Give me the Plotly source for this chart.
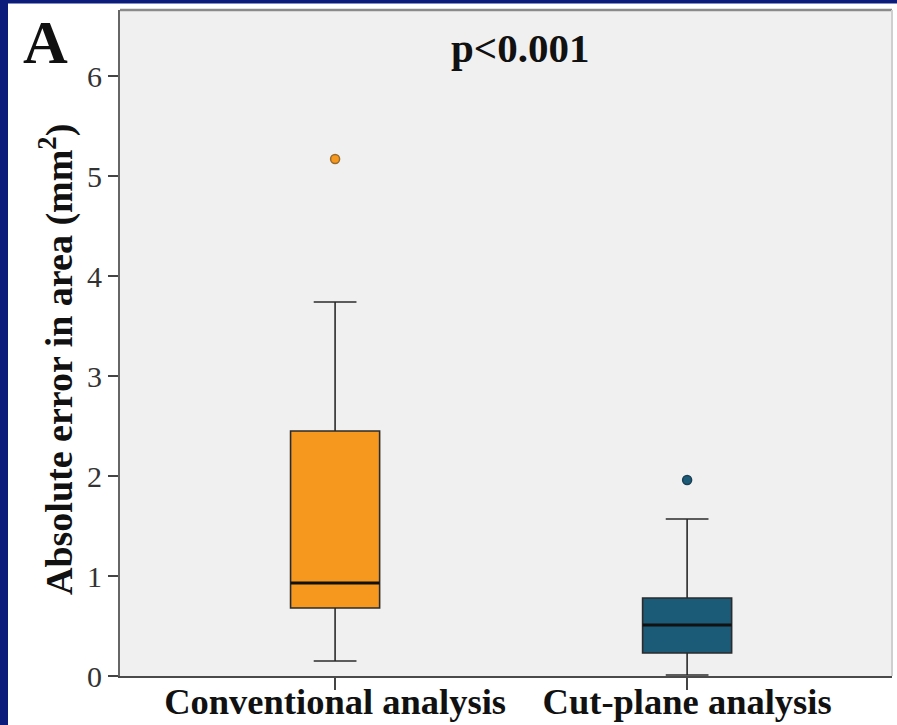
import plotly.graph_objects as go

# ---- data ----
groups = ["Conventional analysis", "Cut-plane analysis"]
q1 = [0.68, 0.23]
median = [0.93, 0.51]
q3 = [2.45, 0.78]
lower_fence = [0.15, 0.01]
upper_fence = [3.74, 1.57]
outliers = [5.17, 1.96]
fill_colors = ["#F7981E", "#1B5B78"]
outlier_edge = ["#9A6A2A", "#1B3F55"]
y_ticks = [0, 1, 2, 3, 4, 5, 6]

W, H = 897, 725
ML, MR, MT, MB = 120, 5, 10, 49
PW, PH = W - ML - MR, H - MT - MB

def px(x):
    return (x - ML) / PW

def py(y):
    return (H - MB - y) / PH

FONT = "Liberation Serif"

fig = go.Figure()
for i, g in enumerate(groups):
    fig.add_trace(go.Box(
        x=[g], q1=[q1[i]], median=[median[i]], q3=[q3[i]],
        lowerfence=[lower_fence[i]], upperfence=[upper_fence[i]],
        fillcolor=fill_colors[i], line=dict(color="#2b2b2b", width=1.6),
        whiskerwidth=0.48, width=0.253, boxpoints=False, showlegend=False,
        hoverinfo="skip",
    ))
    # thicker median line
    fig.add_trace(go.Box(
        x=[g], q1=[median[i]], median=[median[i]], q3=[median[i]],
        lowerfence=[median[i]], upperfence=[median[i]],
        fillcolor="rgba(0,0,0,0)", line=dict(color="#111111", width=3),
        whiskerwidth=0, width=0.253, boxpoints=False, showlegend=False,
        hoverinfo="skip",
    ))
    fig.add_trace(go.Scatter(
        x=[g], y=[outliers[i]], mode="markers", showlegend=False,
        marker=dict(size=9, color=fill_colors[i],
                    line=dict(color=outlier_edge[i], width=1.5)),
    ))

fig.update_layout(
    width=W, height=H,
    margin=dict(l=ML, r=MR, t=MT, b=MB, pad=0, autoexpand=False),
    paper_bgcolor="white", plot_bgcolor="#F0F0F0",
    boxmode="overlay",
    font=dict(family=FONT, color="#222"),
    xaxis=dict(
        type="category", categoryorder="array", categoryarray=groups,
        range=[-0.611, 1.582], showgrid=False, zeroline=False, automargin=False,
        showline=True, linecolor="#4a4a4a", linewidth=2, mirror=False,
        ticks="outside", ticklen=12, tickwidth=2, tickcolor="#444",
        ticklabelstandoff=-20,
        tickfont=dict(family=FONT, size=36.5, color="#111", weight="bold"),
    ),
    yaxis=dict(
        range=[0, 6.66], tickvals=y_ticks, showgrid=False, zeroline=False,
        automargin=False,
        showline=True, linecolor="#666", linewidth=2, mirror=False,
        ticks="outside", ticklen=10, tickwidth=2, tickcolor="#444",
        tickfont=dict(family=FONT, size=30, color="#333"),
    ),
    annotations=[
        dict(text="p<0.001", x=px(520), y=py(48), xref="paper", yref="paper",
             showarrow=False, xanchor="center", yanchor="middle",
             font=dict(family=FONT, size=41, color="#111", weight="bold")),
        dict(text="A", x=px(45), y=py(42), xref="paper", yref="paper",
             showarrow=False, xanchor="center", yanchor="middle",
             font=dict(family=FONT, size=62, color="#111", weight="bold")),
        dict(text="Absolute error in area (mm<sup>2</sup>)", x=px(56), y=py(360),
             xref="paper", yref="paper", showarrow=False, textangle=-90,
             xanchor="center", yanchor="middle",
             font=dict(family=FONT, size=38, color="#111", weight="bold")),
    ],
    shapes=[
        # panel frame: top (mid grey) and right (light grey)
        dict(type="line", xref="paper", yref="paper", x0=0, x1=1, y0=1, y1=1,
             line=dict(color="#8a8a8a", width=2.5)),
        dict(type="line", xref="paper", yref="paper", x0=1, x1=1, y0=0, y1=1,
             line=dict(color="#cfcfcf", width=2)),
        # navy page border
        dict(type="rect", xref="paper", yref="paper", x0=px(0), x1=px(8),
             y0=py(H), y1=py(0), fillcolor="#0C1C7A", line=dict(width=0)),
        dict(type="rect", xref="paper", yref="paper", x0=px(0), x1=px(W),
             y0=py(3.5), y1=py(0), fillcolor="#0C1C7A", line=dict(width=0)),
    ],
)

fig.write_html(
    "out.html",
    config={"displayModeBar": False},
    post_script="document.body.style.margin='0';document.body.style.overflow='hidden';",
)
